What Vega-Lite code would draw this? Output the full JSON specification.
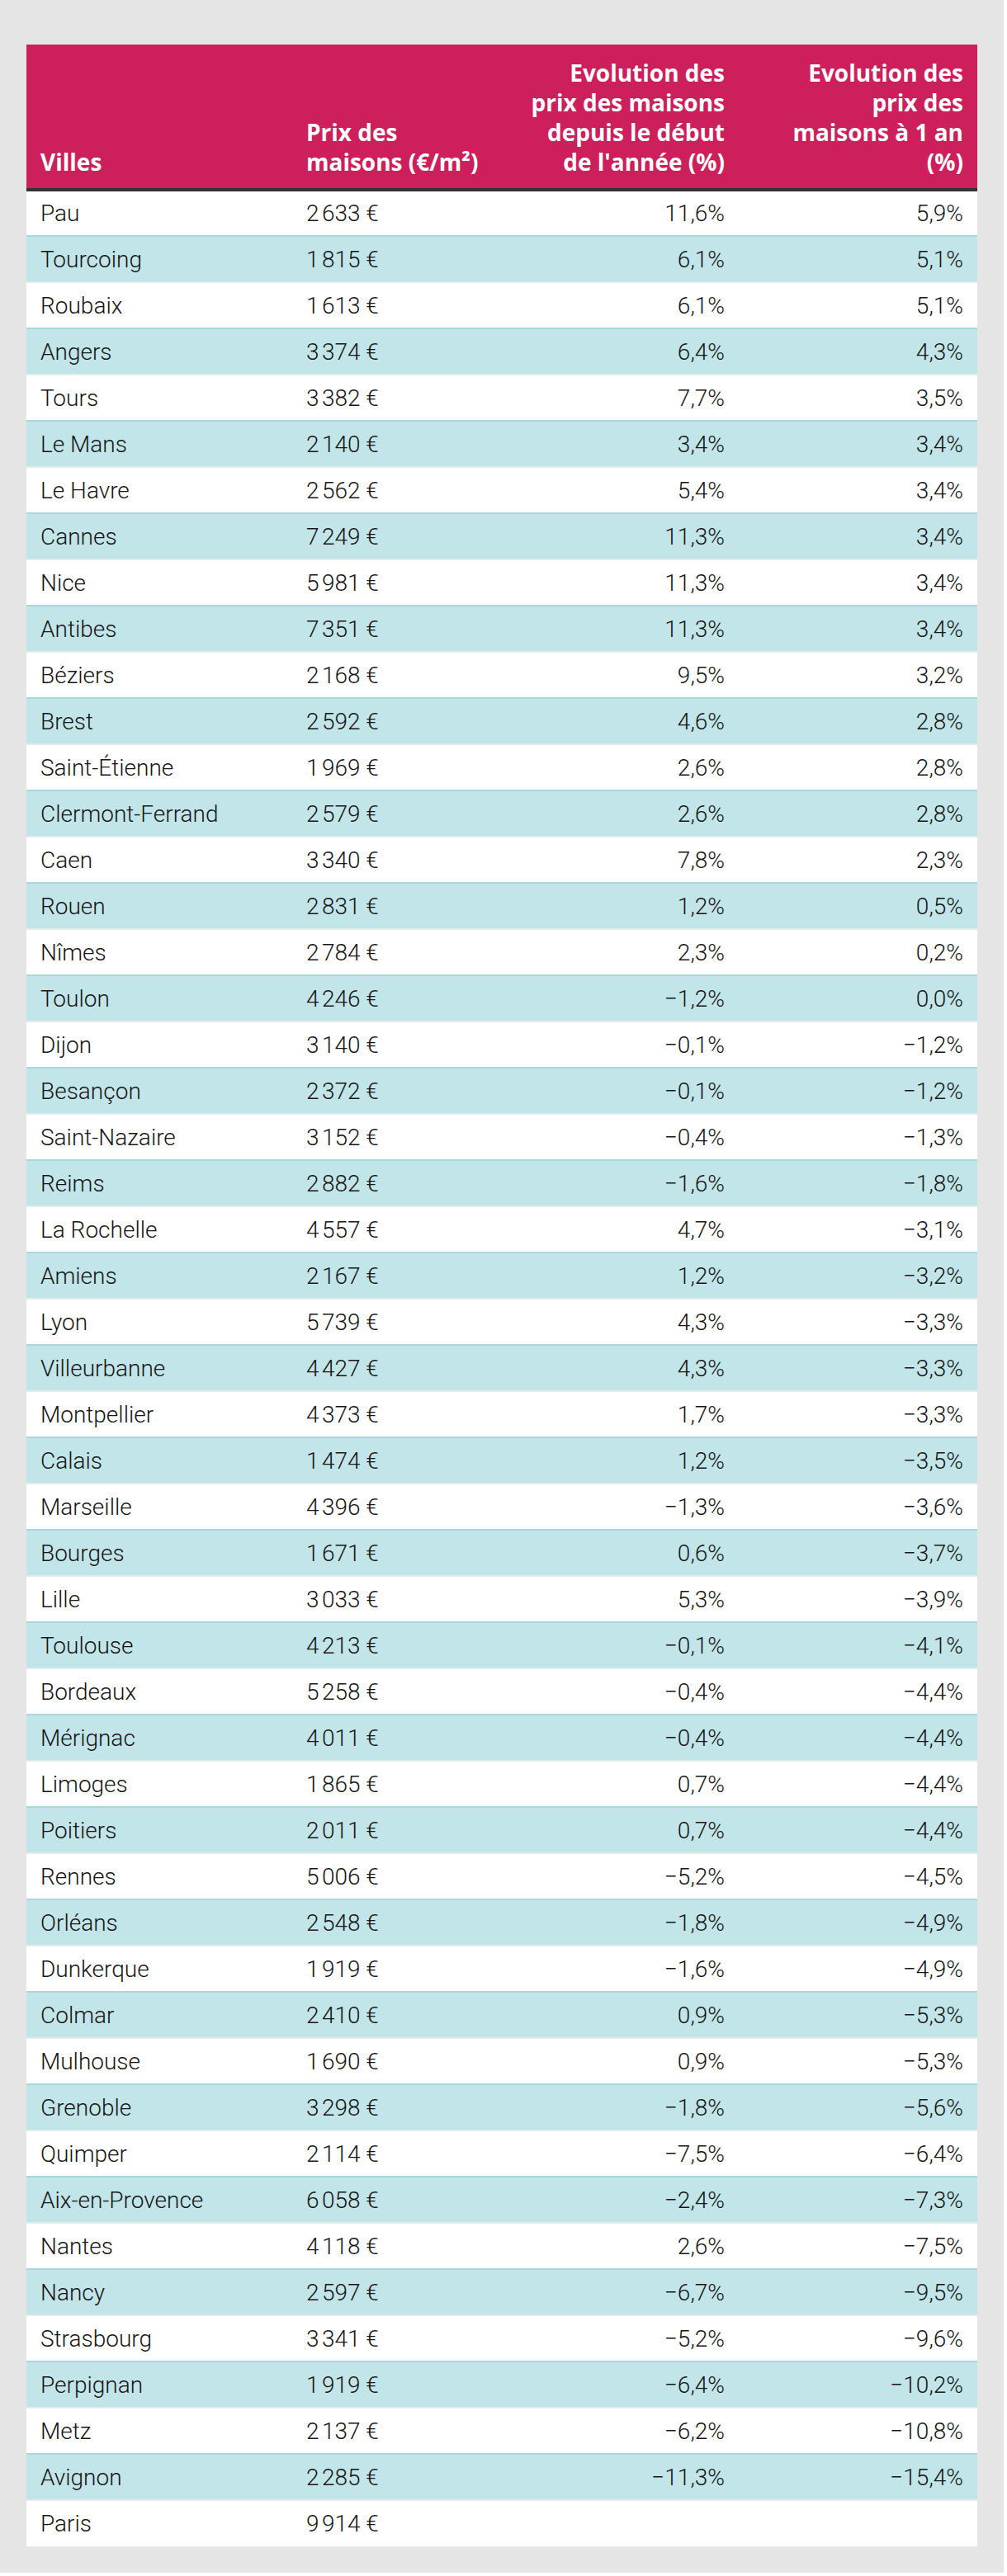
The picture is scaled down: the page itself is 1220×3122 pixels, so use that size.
{
  "$schema": "https://vega.github.io/schema/vega-lite/v6.json",
  "background": "#e5e5e5",
  "padding": {"left": 30, "top": 54, "right": 30, "bottom": 32},
  "spacing": 0,
  "config": {
    "view": {"stroke": null, "fill": "white"},
    "concat": {"spacing": 0},
    "locale": {"number": {"decimal": ",", "thousands": "\u202f", "grouping": [3], "currency": ["", "\u00a0€"], "minus": "\u2212", "percent": "%"}},
    "text": {"font": "Roboto"}
  },
  "datasets": {
    "villes": [
      {"rang": 1, "ville": "Pau", "prix": 2633, "debut": 11.6, "an": 5.9},
      {"rang": 2, "ville": "Tourcoing", "prix": 1815, "debut": 6.1, "an": 5.1},
      {"rang": 3, "ville": "Roubaix", "prix": 1613, "debut": 6.1, "an": 5.1},
      {"rang": 4, "ville": "Angers", "prix": 3374, "debut": 6.4, "an": 4.3},
      {"rang": 5, "ville": "Tours", "prix": 3382, "debut": 7.7, "an": 3.5},
      {"rang": 6, "ville": "Le Mans", "prix": 2140, "debut": 3.4, "an": 3.4},
      {"rang": 7, "ville": "Le Havre", "prix": 2562, "debut": 5.4, "an": 3.4},
      {"rang": 8, "ville": "Cannes", "prix": 7249, "debut": 11.3, "an": 3.4},
      {"rang": 9, "ville": "Nice", "prix": 5981, "debut": 11.3, "an": 3.4},
      {"rang": 10, "ville": "Antibes", "prix": 7351, "debut": 11.3, "an": 3.4},
      {"rang": 11, "ville": "Béziers", "prix": 2168, "debut": 9.5, "an": 3.2},
      {"rang": 12, "ville": "Brest", "prix": 2592, "debut": 4.6, "an": 2.8},
      {"rang": 13, "ville": "Saint-Étienne", "prix": 1969, "debut": 2.6, "an": 2.8},
      {"rang": 14, "ville": "Clermont-Ferrand", "prix": 2579, "debut": 2.6, "an": 2.8},
      {"rang": 15, "ville": "Caen", "prix": 3340, "debut": 7.8, "an": 2.3},
      {"rang": 16, "ville": "Rouen", "prix": 2831, "debut": 1.2, "an": 0.5},
      {"rang": 17, "ville": "Nîmes", "prix": 2784, "debut": 2.3, "an": 0.2},
      {"rang": 18, "ville": "Toulon", "prix": 4246, "debut": -1.2, "an": 0.0},
      {"rang": 19, "ville": "Dijon", "prix": 3140, "debut": -0.1, "an": -1.2},
      {"rang": 20, "ville": "Besançon", "prix": 2372, "debut": -0.1, "an": -1.2},
      {"rang": 21, "ville": "Saint-Nazaire", "prix": 3152, "debut": -0.4, "an": -1.3},
      {"rang": 22, "ville": "Reims", "prix": 2882, "debut": -1.6, "an": -1.8},
      {"rang": 23, "ville": "La Rochelle", "prix": 4557, "debut": 4.7, "an": -3.1},
      {"rang": 24, "ville": "Amiens", "prix": 2167, "debut": 1.2, "an": -3.2},
      {"rang": 25, "ville": "Lyon", "prix": 5739, "debut": 4.3, "an": -3.3},
      {"rang": 26, "ville": "Villeurbanne", "prix": 4427, "debut": 4.3, "an": -3.3},
      {"rang": 27, "ville": "Montpellier", "prix": 4373, "debut": 1.7, "an": -3.3},
      {"rang": 28, "ville": "Calais", "prix": 1474, "debut": 1.2, "an": -3.5},
      {"rang": 29, "ville": "Marseille", "prix": 4396, "debut": -1.3, "an": -3.6},
      {"rang": 30, "ville": "Bourges", "prix": 1671, "debut": 0.6, "an": -3.7},
      {"rang": 31, "ville": "Lille", "prix": 3033, "debut": 5.3, "an": -3.9},
      {"rang": 32, "ville": "Toulouse", "prix": 4213, "debut": -0.1, "an": -4.1},
      {"rang": 33, "ville": "Bordeaux", "prix": 5258, "debut": -0.4, "an": -4.4},
      {"rang": 34, "ville": "Mérignac", "prix": 4011, "debut": -0.4, "an": -4.4},
      {"rang": 35, "ville": "Limoges", "prix": 1865, "debut": 0.7, "an": -4.4},
      {"rang": 36, "ville": "Poitiers", "prix": 2011, "debut": 0.7, "an": -4.4},
      {"rang": 37, "ville": "Rennes", "prix": 5006, "debut": -5.2, "an": -4.5},
      {"rang": 38, "ville": "Orléans", "prix": 2548, "debut": -1.8, "an": -4.9},
      {"rang": 39, "ville": "Dunkerque", "prix": 1919, "debut": -1.6, "an": -4.9},
      {"rang": 40, "ville": "Colmar", "prix": 2410, "debut": 0.9, "an": -5.3},
      {"rang": 41, "ville": "Mulhouse", "prix": 1690, "debut": 0.9, "an": -5.3},
      {"rang": 42, "ville": "Grenoble", "prix": 3298, "debut": -1.8, "an": -5.6},
      {"rang": 43, "ville": "Quimper", "prix": 2114, "debut": -7.5, "an": -6.4},
      {"rang": 44, "ville": "Aix-en-Provence", "prix": 6058, "debut": -2.4, "an": -7.3},
      {"rang": 45, "ville": "Nantes", "prix": 4118, "debut": 2.6, "an": -7.5},
      {"rang": 46, "ville": "Nancy", "prix": 2597, "debut": -6.7, "an": -9.5},
      {"rang": 47, "ville": "Strasbourg", "prix": 3341, "debut": -5.2, "an": -9.6},
      {"rang": 48, "ville": "Perpignan", "prix": 1919, "debut": -6.4, "an": -10.2},
      {"rang": 49, "ville": "Metz", "prix": 2137, "debut": -6.2, "an": -10.8},
      {"rang": 50, "ville": "Avignon", "prix": 2285, "debut": -11.3, "an": -15.4},
      {"rang": 51, "ville": "Paris", "prix": 9914, "debut": null, "an": null}
    ]
  },
  "vconcat": [
    {
      "spacing": 0,
      "bounds": "flush",
      "hconcat": [
        {
          "width": 322, "height": 174,
          "view": {"fill": "#cd1f5b", "stroke": null},
          "data": {"values": [{"titre": ["Villes"]}]},
          "mark": {"type": "text", "x": 0, "dx": 17, "y": 0, "dy": 153, "align": "left", "baseline": "alphabetic", "lineHeight": 36, "font": "Open Sans", "fontWeight": "bold", "fontSize": 28, "color": "white"},
          "encoding": {"text": {"field": "titre"}}
        },
        {
          "width": 278, "height": 174,
          "view": {"fill": "#cd1f5b", "stroke": null},
          "data": {"values": [{"titre": ["Prix des", "maisons (€/m²)"]}]},
          "mark": {"type": "text", "x": 0, "dx": 17, "y": 0, "dy": 117, "align": "left", "baseline": "alphabetic", "lineHeight": 36, "font": "Open Sans", "fontWeight": "bold", "fontSize": 28, "color": "white"},
          "encoding": {"text": {"field": "titre"}}
        },
        {
          "width": 263, "height": 174,
          "view": {"fill": "#cd1f5b", "stroke": null},
          "data": {"values": [{"titre": ["Evolution des", "prix des maisons", "depuis le début", "de l'année (%)"]}]},
          "mark": {"type": "text", "x": "width", "dx": -17, "y": 0, "dy": 45, "align": "right", "baseline": "alphabetic", "lineHeight": 36, "font": "Open Sans", "fontWeight": "bold", "fontSize": 28, "color": "white"},
          "encoding": {"text": {"field": "titre"}}
        },
        {
          "width": 289, "height": 174,
          "view": {"fill": "#cd1f5b", "stroke": null},
          "data": {"values": [{"titre": ["Evolution des", "prix des", "maisons à 1 an", "(%)"]}]},
          "mark": {"type": "text", "x": "width", "dx": -17, "y": 0, "dy": 45, "align": "right", "baseline": "alphabetic", "lineHeight": 36, "font": "Open Sans", "fontWeight": "bold", "fontSize": 28, "color": "white"},
          "encoding": {"text": {"field": "titre"}}
        }
      ]
    },
    {
      "spacing": 0,
      "bounds": "flush",
      "hconcat": [
        {
          "width": 322, "height": 2856,
          "data": {"name": "villes"},
          "layer": [
            {"transform": [{"filter": "datum.rang % 2 == 0"}], "mark": {"type": "rect", "color": "#c2e5e9"}, "encoding": {"y": {"field": "rang", "type": "ordinal", "axis": null, "scale": {"paddingInner": 0, "paddingOuter": 0}}}},
            {"transform": [{"filter": "datum.rang > 1"}], "mark": {"type": "rule", "strokeWidth": 2}, "encoding": {"y": {"field": "rang", "type": "ordinal", "bandPosition": 0, "axis": null}, "color": {"condition": {"test": "datum.rang % 2 == 0", "value": "#acd6db"}, "value": "#e7e9e9"}}},
            {"transform": [{"filter": "datum.rang == 1"}], "mark": {"type": "rule", "strokeWidth": 4, "color": "#333333"}, "encoding": {"y": {"field": "rang", "type": "ordinal", "bandPosition": 0, "axis": null}}},
            {"mark": {"type": "text", "x": 0, "dx": 17, "dy": 2, "align": "left", "baseline": "middle", "font": "Roboto", "fontWeight": 300, "fontSize": 28, "color": "#161616"}, "encoding": {"y": {"field": "rang", "type": "ordinal", "axis": null}, "text": {"field": "ville"}}}
          ]
        },
        {
          "width": 278, "height": 2856,
          "data": {"name": "villes"},
          "layer": [
            {"transform": [{"filter": "datum.rang % 2 == 0"}], "mark": {"type": "rect", "color": "#c2e5e9"}, "encoding": {"y": {"field": "rang", "type": "ordinal", "axis": null, "scale": {"paddingInner": 0, "paddingOuter": 0}}}},
            {"transform": [{"filter": "datum.rang > 1"}], "mark": {"type": "rule", "strokeWidth": 2}, "encoding": {"y": {"field": "rang", "type": "ordinal", "bandPosition": 0, "axis": null}, "color": {"condition": {"test": "datum.rang % 2 == 0", "value": "#acd6db"}, "value": "#e7e9e9"}}},
            {"transform": [{"filter": "datum.rang == 1"}], "mark": {"type": "rule", "strokeWidth": 4, "color": "#333333"}, "encoding": {"y": {"field": "rang", "type": "ordinal", "bandPosition": 0, "axis": null}}},
            {"mark": {"type": "text", "x": 0, "dx": 17, "dy": 2, "align": "left", "baseline": "middle", "font": "Roboto", "fontWeight": 300, "fontSize": 28, "color": "#161616"}, "encoding": {"y": {"field": "rang", "type": "ordinal", "axis": null}, "text": {"field": "prix", "type": "quantitative", "format": "$,.0f"}}}
          ]
        },
        {
          "width": 263, "height": 2856,
          "data": {"name": "villes"},
          "layer": [
            {"transform": [{"filter": "datum.rang % 2 == 0"}], "mark": {"type": "rect", "color": "#c2e5e9"}, "encoding": {"y": {"field": "rang", "type": "ordinal", "axis": null, "scale": {"paddingInner": 0, "paddingOuter": 0}}}},
            {"transform": [{"filter": "datum.rang > 1"}], "mark": {"type": "rule", "strokeWidth": 2}, "encoding": {"y": {"field": "rang", "type": "ordinal", "bandPosition": 0, "axis": null}, "color": {"condition": {"test": "datum.rang % 2 == 0", "value": "#acd6db"}, "value": "#e7e9e9"}}},
            {"transform": [{"filter": "datum.rang == 1"}], "mark": {"type": "rule", "strokeWidth": 4, "color": "#333333"}, "encoding": {"y": {"field": "rang", "type": "ordinal", "bandPosition": 0, "axis": null}}},
            {"transform": [{"calculate": "isValid(datum.debut) ? format(datum.debut, '.1f') + '%' : ''", "as": "debut_txt"}], "mark": {"type": "text", "x": "width", "dx": -17, "dy": 2, "align": "right", "baseline": "middle", "font": "Roboto", "fontWeight": 300, "fontSize": 28, "color": "#161616"}, "encoding": {"y": {"field": "rang", "type": "ordinal", "axis": null}, "text": {"field": "debut_txt"}}}
          ]
        },
        {
          "width": 289, "height": 2856,
          "data": {"name": "villes"},
          "layer": [
            {"transform": [{"filter": "datum.rang % 2 == 0"}], "mark": {"type": "rect", "color": "#c2e5e9"}, "encoding": {"y": {"field": "rang", "type": "ordinal", "axis": null, "scale": {"paddingInner": 0, "paddingOuter": 0}}}},
            {"transform": [{"filter": "datum.rang > 1"}], "mark": {"type": "rule", "strokeWidth": 2}, "encoding": {"y": {"field": "rang", "type": "ordinal", "bandPosition": 0, "axis": null}, "color": {"condition": {"test": "datum.rang % 2 == 0", "value": "#acd6db"}, "value": "#e7e9e9"}}},
            {"transform": [{"filter": "datum.rang == 1"}], "mark": {"type": "rule", "strokeWidth": 4, "color": "#333333"}, "encoding": {"y": {"field": "rang", "type": "ordinal", "bandPosition": 0, "axis": null}}},
            {"transform": [{"calculate": "isValid(datum.an) ? format(datum.an, '.1f') + '%' : ''", "as": "an_txt"}], "mark": {"type": "text", "x": "width", "dx": -17, "dy": 2, "align": "right", "baseline": "middle", "font": "Roboto", "fontWeight": 300, "fontSize": 28, "color": "#161616"}, "encoding": {"y": {"field": "rang", "type": "ordinal", "axis": null}, "text": {"field": "an_txt"}}}
          ]
        }
      ]
    }
  ]
}
